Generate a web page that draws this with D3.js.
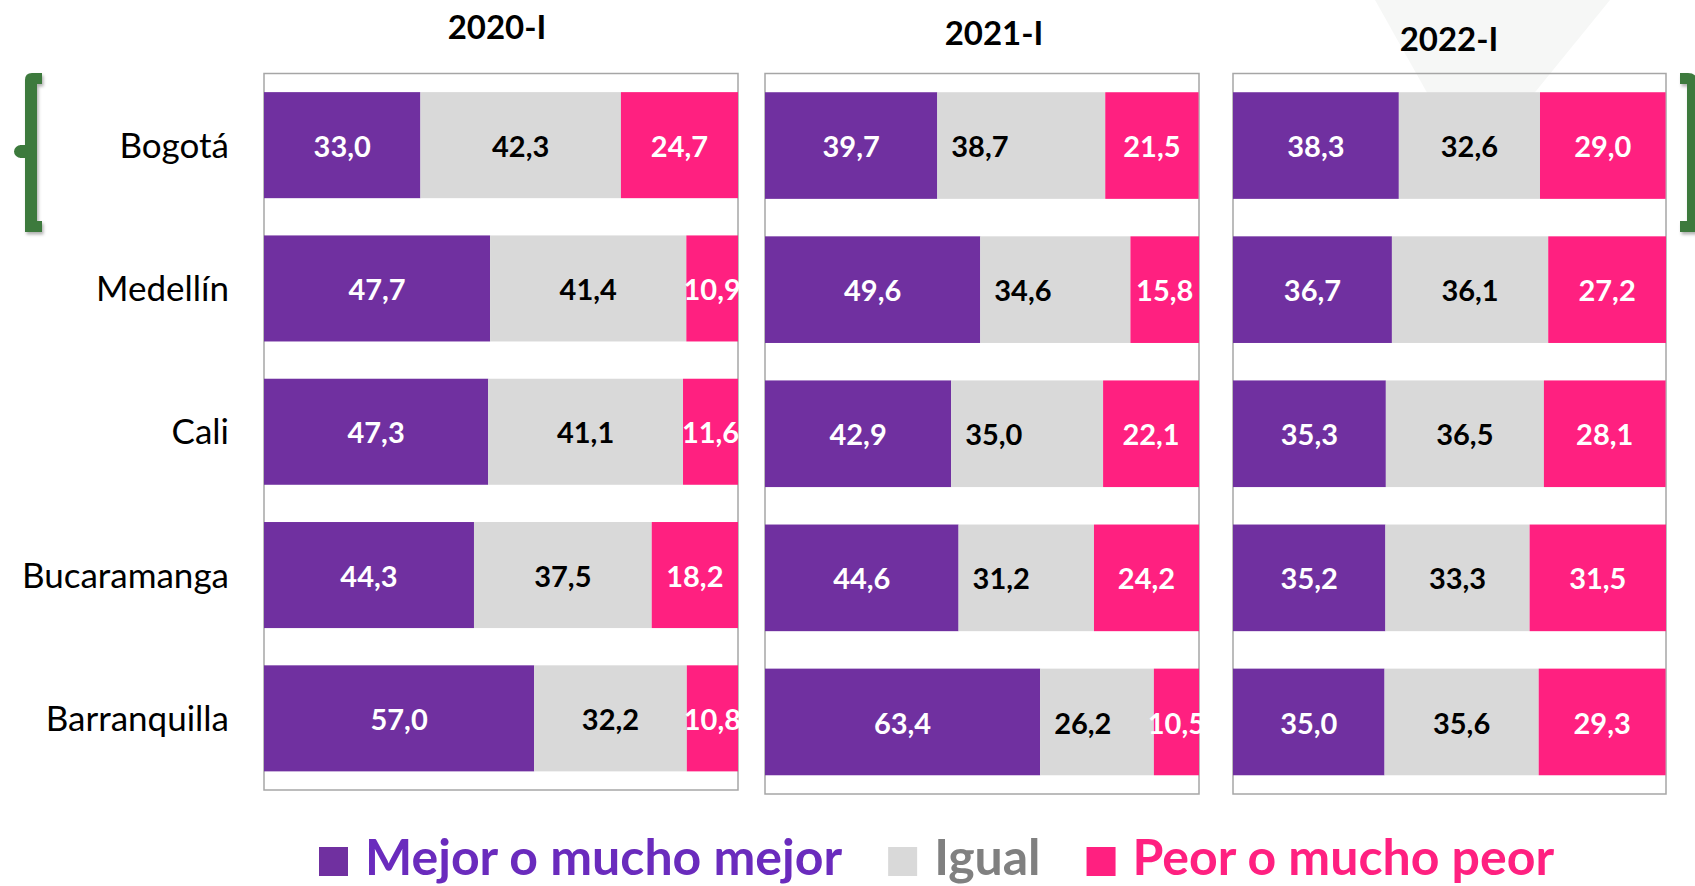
<!DOCTYPE html>
<html>
<head>
<meta charset="utf-8">
<script src="https://cdn.jsdelivr.net/npm/d3@7"></script>
<style>
  body { margin: 0; background: #fff; }
  svg { display: block; }
</style>
</head>
<body>
<svg id="svg"></svg>
<script>
// data
const cities = ["Bogotá", "Medellín", "Cali", "Bucaramanga", "Barranquilla"];
const periods = ["2020-I", "2021-I", "2022-I"];
const seriesNames = ["Mejor o mucho mejor", "Igual", "Peor o mucho peor"];

const mejor2020 = [33.0, 47.7, 47.3, 44.3, 57.0];
const igual2020 = [42.3, 41.4, 41.1, 37.5, 32.2];
const peor2020  = [24.7, 10.9, 11.6, 18.2, 10.8];

const mejor2021 = [39.7, 49.6, 42.9, 44.6, 63.4];
const igual2021 = [38.7, 34.6, 35.0, 31.2, 26.2];
const peor2021  = [21.5, 15.8, 22.1, 24.2, 10.5];

const mejor2022 = [38.3, 36.7, 35.3, 35.2, 35.0];
const igual2022 = [32.6, 36.1, 36.5, 33.3, 35.6];
const peor2022  = [29.0, 27.2, 28.1, 31.5, 29.3];

const width = 1695;
const height = 886;
const colors = ["#7030a0", "#d9d9d9", "#ff2080"];
const legendTextColors = ["#6a2bbd", "#808080", "#ff2080"];
const labelColors = ["#fff", "#000", "#fff"];
const green = "#3c7a3c";
const fontFam = "Lato, 'Open Sans', 'Liberation Sans', sans-serif";

// panel boxes (layout)
const panels = [
    { x0: 264, x1: 738, y0: 73.5, y1: 790, titleX: 497, titleY: 39, grayStart: false },
    { x0: 765, x1: 1199, y0: 73.5, y1: 794, titleX: 994, titleY: 45, grayStart: true },
    { x0: 1233, x1: 1666, y0: 73.5, y1: 794, titleX: 1449, titleY: 51, grayStart: false }
];

const tables = [
    [mejor2020, igual2020, peor2020],
    [mejor2021, igual2021, peor2021],
    [mejor2022, igual2022, peor2022]
];

const keys = ["mejor", "igual", "peor"];
const fmt = v => d3.format(".1f")(v).replace(".", ",");

let svg = d3.select("#svg")
    .attr("width", width)
    .attr("height", height);

svg.append("rect")
    .attr("width", width)
    .attr("height", height)
    .attr("fill", "#fff");

// faint background triangle
svg.append("path")
    .attr("d", "M1375,0 L1610,0 L1471,171 Z")
    .attr("fill", "#f6f7f6");

const defs = svg.append("defs");
const shadow = defs.append("filter").attr("id", "shadow")
    .attr("x", "-50%").attr("y", "-10%").attr("width", "200%").attr("height", "130%");
shadow.append("feDropShadow")
    .attr("dx", 1.5).attr("dy", 2.5).attr("stdDeviation", 1.5)
    .attr("flood-color", "#000").attr("flood-opacity", 0.3);

// brackets around Bogotá
svg.append("path")
    .attr("d", "M25,232 L25,80 Q25,73 32,73 L42,73 L42,84 L37,84 L37,221 L42,221 L42,232 Z")
    .attr("fill", green)
    .attr("filter", "url(#shadow)");
svg.append("ellipse")
    .attr("cx", 21).attr("cy", 151.5).attr("rx", 7).attr("ry", 6.5)
    .attr("fill", green);
svg.append("rect")
    .attr("x", 20).attr("y", 145).attr("width", 8).attr("height", 13)
    .attr("fill", green);

svg.append("path")
    .attr("d", "M1680,73 L1688,73 Q1697,73 1697,82 L1697,232 L1680,232 L1680,221 L1687,221 L1687,84 L1680,84 Z")
    .attr("fill", green)
    .attr("filter", "url(#shadow)");

panels.forEach((p, pi) => {
    const rows = cities.map((c, i) => ({
        city: c,
        mejor: tables[pi][0][i],
        igual: tables[pi][1][i],
        peor: tables[pi][2][i]
    }));

    const xScale = d3.scaleLinear().domain([0, 100]).range([p.x0, p.x1]);
    const yScale = d3.scaleBand()
        .domain(cities)
        .range([p.y0, p.y1])
        .paddingInner(0.26)
        .paddingOuter(0.13);

    const stacked = d3.stack().keys(keys)(rows);

    const g = svg.append("g").attr("class", "panel");

    // panel frame
    g.append("rect")
        .attr("x", p.x0)
        .attr("y", p.y0)
        .attr("width", p.x1 - p.x0)
        .attr("height", p.y1 - p.y0)
        .attr("fill", "none")
        .attr("stroke", "#a6a6a6")
        .attr("stroke-width", 1.5);

    const layers = g.selectAll(".layer")
        .data(stacked)
        .enter().append("g")
        .attr("class", "layer")
        .attr("fill", (d, i) => colors[i]);

    layers.selectAll("rect")
        .data(d => d)
        .enter().append("rect")
        .attr("x", d => xScale(d[0]))
        .attr("y", d => yScale(d.data.city))
        .attr("width", d => xScale(Math.min(d[1], 100)) - xScale(d[0]))
        .attr("height", yScale.bandwidth());

    stacked.forEach((layer, si) => {
        const atStart = si === 1 && p.grayStart;
        g.selectAll(".lbl" + si)
            .data(layer)
            .enter().append("text")
            .attr("class", "lbl" + si)
            .attr("x", d => atStart ? xScale(d[0]) + 14 : xScale((d[0] + Math.min(d[1], 100)) / 2))
            .attr("y", d => yScale(d.data.city) + yScale.bandwidth() / 2)
            .attr("dy", "0.4em")
            .attr("text-anchor", atStart ? "start" : "middle")
            .style("font-family", fontFam)
            .style("font-weight", 700)
            .style("font-size", "29px")
            .style("fill", labelColors[si])
            .text(d => fmt(d.data[keys[si]]));
    });

    // period title
    svg.append("text")
        .attr("x", p.titleX)
        .attr("y", p.titleY)
        .attr("text-anchor", "middle")
        .style("font-family", fontFam)
        .style("font-weight", 700)
        .style("font-size", "33px")
        .style("fill", "#000")
        .text(periods[pi]);

    // city labels on the first panel only
    if (pi === 0) {
        svg.selectAll(".city")
            .data(cities)
            .enter().append("text")
            .attr("class", "city")
            .attr("x", p.x0 - 35)
            .attr("y", d => yScale(d) + yScale.bandwidth() / 2)
            .attr("dy", "0.36em")
            .attr("text-anchor", "end")
            .style("font-family", fontFam)
            .style("font-size", "35px")
            .style("fill", "#000")
            .text(d => d);
    }
});

// legend
const legend = svg.append("g").attr("class", "legend");
let lx = 319;
const sq = 29;
const legendBase = 875;
seriesNames.forEach((name, i) => {
    legend.append("rect")
        .attr("x", lx)
        .attr("y", legendBase - sq + 1)
        .attr("width", sq)
        .attr("height", sq)
        .attr("fill", colors[i]);
    const t = legend.append("text")
        .attr("x", lx + sq + 17)
        .attr("y", legendBase)
        .style("font-family", fontFam)
        .style("font-weight", 700)
        .style("font-size", "50px")
        .style("fill", legendTextColors[i])
        .text(name);
    lx += sq + 17 + t.node().getComputedTextLength() + 46;
});
</script>
</body>
</html>
